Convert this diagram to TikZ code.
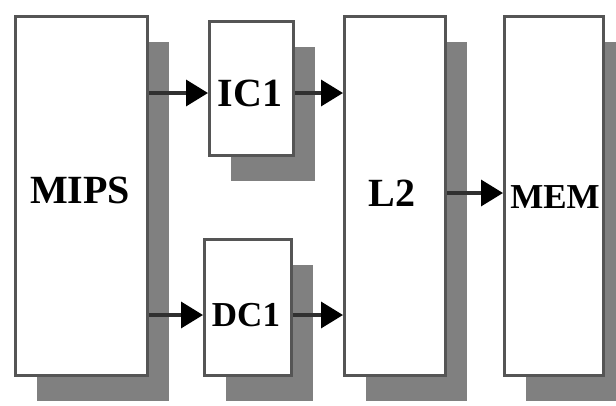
\documentclass[tikz,border=0pt]{standalone}
\usepackage{fontspec}
\setmainfont{Liberation Serif}
\usepackage{tikz}
\usetikzlibrary{arrows.meta,shadows}
\definecolor{edgec}{HTML}{555555}
\definecolor{shdc}{HTML}{808080}
\definecolor{linec}{HTML}{303030}
\tikzset{
  blk/.style={rectangle,draw=edgec,line width=3pt,fill=white,inner sep=0pt,
    copy shadow={shadow xshift=21pt,shadow yshift=-25pt,fill=shdc,draw=none}},
  lbl/.style={inner sep=0pt,font=\bfseries\fontsize{40}{44}\selectfont},
  lbs/.style={inner sep=0pt,font=\bfseries\fontsize{35}{40}\selectfont},
  ar/.style={-{Triangle[length=22pt,width=26pt,color=black]},line width=3.5pt,linec}
}
\begin{document}
\begin{tikzpicture}[x=1pt,y=-1pt]
\useasboundingbox (0,0) rectangle (616,405);
\clip (0,0) rectangle (616,405);
\fill[white] (0,0) rectangle (616,405);
% blocks
\node[blk,minimum width=132pt,minimum height=359pt] (mips) at (81.5,196) {};
\node[blk,minimum width=84pt,minimum height=134pt] (ic) at (251.5,88.5) {};
\node[blk,minimum width=87pt,minimum height=136pt] (dc) at (248,307.5) {};
\node[blk,minimum width=101pt,minimum height=359pt] (ltwo) at (395,196) {};
\node[blk,minimum width=99pt,minimum height=359pt] (mem) at (554,196) {};
% names
\node[lbl] (mipst) at (80,190.5) {MIPS};
\node[lbl] (ict) at (250,93) {IC1};
\node[lbs] (dct) at (246,315) {DC1};
\node[lbl] (ltwot) at (392,193) {L2};
\node[lbs] (memt) at (555,197) {MEM};
% links
\draw[ar] (mips.east |- ict) -- (ic.west |- ict);
\draw[ar] (mips.east |- dct) -- (dc.west |- dct);
\draw[ar] (ic.east |- ict) -- (ltwo.west |- ict);
\draw[ar] (dc.east |- dct) -- (ltwo.west |- dct);
\draw[ar] (ltwo.east |- ltwot) -- (mem.west |- ltwot);
\end{tikzpicture}
\end{document}
